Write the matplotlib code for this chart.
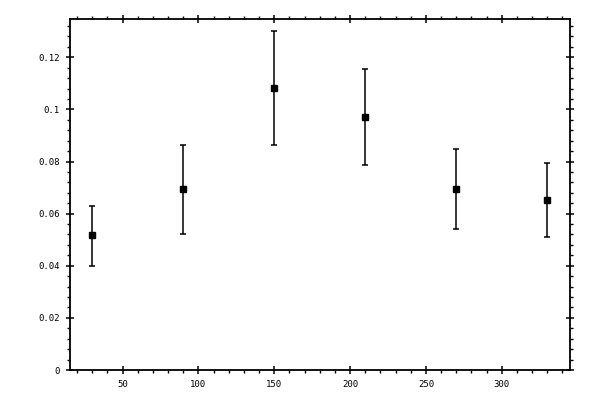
import matplotlib
matplotlib.use("Agg")
import matplotlib.pyplot as plt
from matplotlib.ticker import MultipleLocator, FuncFormatter

# values
angles = [30, 90, 150, 210, 270, 330]
values = [0.0517, 0.0694, 0.1081, 0.0970, 0.0694, 0.0651]
err_low = [0.0116, 0.0173, 0.0219, 0.0184, 0.0153, 0.0142]
err_high = [0.0113, 0.0168, 0.0219, 0.0184, 0.0153, 0.0142]

fig = plt.figure(figsize=(6, 4), dpi=100)
ax = fig.add_axes([69.5 / 600, 30 / 400, (570 - 69.5) / 600, (370 - 19) / 400])

ax.errorbar(angles, values, yerr=[err_low, err_high], fmt="s", color="black",
            markersize=5, elinewidth=1.1, capsize=2.5, capthick=1.1)

ax.set_xlim(15, 345)
ax.set_ylim(0, 0.1347)

ax.xaxis.set_major_locator(MultipleLocator(50))
ax.xaxis.set_minor_locator(MultipleLocator(10))
ax.yaxis.set_major_locator(MultipleLocator(0.02))
ax.yaxis.set_minor_locator(MultipleLocator(0.004))
ax.yaxis.set_major_formatter(FuncFormatter(lambda v, p: "%g" % round(v, 4)))

for s in ax.spines.values():
    s.set_linewidth(1.3)

ax.tick_params(which="major", direction="inout", length=6, width=1.1,
               top=True, right=True, labelsize=6.5, pad=4)
ax.tick_params(which="minor", direction="out", length=2.5, width=1.0,
               top=True, right=True)
for lab in ax.get_xticklabels() + ax.get_yticklabels():
    lab.set_family("DejaVu Sans Mono")

fig.savefig("out.png", dpi=100)
